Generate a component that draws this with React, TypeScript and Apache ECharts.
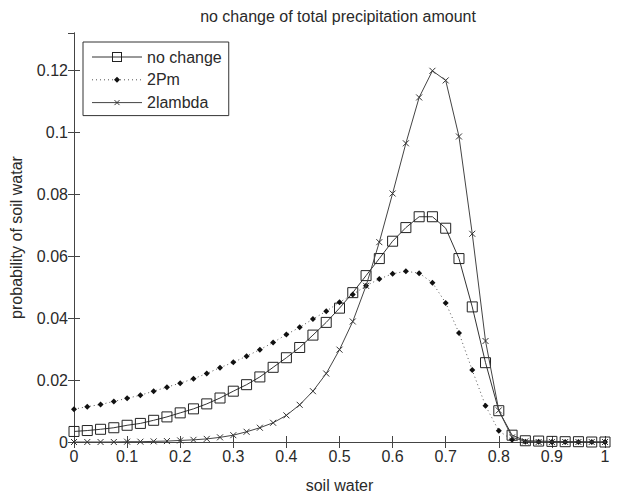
import React, { useEffect, useRef } from "react";
import * as echarts from "echarts";

const soilWater = [
  0, 0.025, 0.05, 0.075, 0.1, 0.125, 0.15, 0.175, 0.2, 0.225,
  0.25, 0.275, 0.3, 0.325, 0.35, 0.375, 0.4, 0.425, 0.45, 0.475,
  0.5, 0.525, 0.55, 0.575, 0.6, 0.625, 0.65, 0.675, 0.7, 0.725,
  0.75, 0.775, 0.8, 0.825, 0.85, 0.875, 0.9, 0.925, 0.95, 0.975, 1,
];

const noChange = [
  0.0034, 0.0037, 0.0041, 0.0046, 0.0054, 0.006, 0.007, 0.0081, 0.0094, 0.0107,
  0.0123, 0.0142, 0.0164, 0.0185, 0.021, 0.0241, 0.0272, 0.0305, 0.0345, 0.0386,
  0.0432, 0.0482, 0.0537, 0.0592, 0.0648, 0.0692, 0.0727, 0.0727, 0.069, 0.0592,
  0.0436, 0.0256, 0.0101, 0.0022, 0.0004, 0.0003, 0.0002, 0.0001, 0.0001, 0.0, 0.0,
];

const twoPm = [
  0.0106, 0.0114, 0.0121, 0.0131, 0.0141, 0.0151, 0.0164, 0.0177, 0.019, 0.0204,
  0.0221, 0.024, 0.0257, 0.0277, 0.0298, 0.0321, 0.0347, 0.037, 0.0397, 0.0422,
  0.0451, 0.0476, 0.0504, 0.0526, 0.0543, 0.0551, 0.0545, 0.0514, 0.0449, 0.0352,
  0.0232, 0.0117, 0.0036, 0.0007, 0.0001, 0.0001, 0.0, 0.0, 0.0, 0.0, 0.0,
];

const twoLambda = [
  0.0, 0.0, 0.0, 0.0, 0.0001, 0.0001, 0.0002, 0.0003, 0.0005, 0.0007,
  0.001, 0.0015, 0.0022, 0.0033, 0.0046, 0.0062, 0.0086, 0.012, 0.0164, 0.0221,
  0.0298, 0.0389, 0.0504, 0.0645, 0.0802, 0.0964, 0.1112, 0.1198, 0.1167, 0.0986,
  0.0672, 0.0326, 0.0102, 0.0015, 0.0002, 0.0, 0.0, 0.0, 0.0, 0.0, 0.0,
];

const seriesNames = ["no change", "2Pm", "2lambda"];
const xTicks = [0, 0.1, 0.2, 0.3, 0.4, 0.5, 0.6, 0.7, 0.8, 0.9, 1];
const yTicks = [0, 0.02, 0.04, 0.06, 0.08, 0.1, 0.12];

const FONT = "Liberation Sans, Arial, sans-serif";
const AXIS_COLOR = "#444";
const TEXT_COLOR = "#2a2a2a";

const pairs = (ys: number[]) => soilWater.map((x, i) => [x, ys[i]]);

const svgIcon = (inner: string) =>
  "image://data:image/svg+xml;charset=utf-8," +
  encodeURIComponent(
    `<svg xmlns="http://www.w3.org/2000/svg" width="50" height="16" viewBox="0 0 50 16">${inner}</svg>`
  );

const legendIcons = [
  svgIcon(
    '<line x1="0" y1="8" x2="50" y2="8" stroke="#333" stroke-width="1"/>' +
      '<rect x="20.5" y="3.5" width="9" height="9" fill="none" stroke="#222" stroke-width="1"/>'
  ),
  svgIcon(
    '<line x1="0" y1="8" x2="50" y2="8" stroke="#555" stroke-width="1" stroke-dasharray="1 3"/>' +
      '<polygon points="25,5 28,8 25,11 22,8" fill="#111"/>'
  ),
  svgIcon(
    '<line x1="0" y1="8" x2="50" y2="8" stroke="#444" stroke-width="1"/>' +
      '<path d="M22.5,5.5L27.5,10.5M27.5,5.5L22.5,10.5" stroke="#333" stroke-width="1"/>'
  ),
];

export default function App() {
  const ref = useRef<HTMLDivElement>(null);
  useEffect(() => {
    if (!ref.current) return;
    const chart = echarts.init(ref.current, null, { renderer: "svg" });
    const isTick = (arr: number[], v: number) =>
      arr.some((t) => Math.abs(t - v) < 1e-9);
    const axisCommon = {
      axisLine: { show: true, lineStyle: { color: AXIS_COLOR, width: 1 } },
      axisTick: { show: true, inside: true, length: 6, lineStyle: { color: AXIS_COLOR } },
      splitLine: { show: false },
    };
    chart.setOption({
      animation: false,
      backgroundColor: "#fff",
      grid: { left: 71, right: 19, top: 33, bottom: 44, containLabel: false },
      graphic: [
        {
          type: "text",
          x: 338,
          y: 16,
          style: {
            text: "no change of total precipitation amount",
            align: "center",
            verticalAlign: "middle",
            font: `16px ${FONT}`,
            fill: TEXT_COLOR,
          },
        },
      ],
      legend: {
        orient: "vertical",
        left: 83,
        top: 42,
        data: seriesNames.map((name, i) => ({ name, icon: legendIcons[i] })),
        borderColor: "#333",
        borderWidth: 1,
        padding: [7, 7, 5, 9],
        itemWidth: 50,
        itemHeight: 16,
        itemGap: 6.8,
        textStyle: { fontFamily: FONT, fontSize: 16, color: TEXT_COLOR },
        backgroundColor: "#fff",
      },
      xAxis: [
        {
          type: "value",
          min: 0,
          max: 1,
          interval: 0.1,
          name: "soil water",
          nameLocation: "middle",
          nameGap: 35,
          nameTextStyle: { fontFamily: FONT, fontSize: 16, color: TEXT_COLOR },
          axisLabel: {
            fontFamily: FONT,
            fontSize: 16,
            color: TEXT_COLOR,
            margin: 6,
            formatter: (v: number) => (isTick(xTicks, v) ? String(+v.toFixed(2)) : ""),
          },
          ...axisCommon,
        },
        {
          type: "value",
          position: "top",
          min: 0,
          max: 1,
          interval: 0.1,
          axisLabel: { show: false },
          ...axisCommon,
        },
      ],
      yAxis: [
        {
          type: "value",
          min: 0,
          max: 0.132,
          interval: 0.02,
          name: "probability of soil watar",
          nameLocation: "middle",
          nameGap: 50,
          nameTextStyle: { fontFamily: FONT, fontSize: 16, color: TEXT_COLOR },
          axisLabel: {
            fontFamily: FONT,
            fontSize: 16,
            color: TEXT_COLOR,
            margin: 6,
            showMaxLabel: false,
            formatter: (v: number) => (isTick(yTicks, v) ? String(+v.toFixed(2)) : ""),
          },
          ...axisCommon,
        },
        {
          type: "value",
          position: "right",
          min: 0,
          max: 0.132,
          interval: 0.02,
          axisLabel: { show: false },
          ...axisCommon,
        },
      ],
      series: [
        {
          name: seriesNames[0],
          type: "line",
          data: pairs(noChange),
          symbol: "rect",
          symbolSize: 10,
          showAllSymbol: true,
          lineStyle: { color: "#333", width: 1 },
          itemStyle: { color: "rgba(255,255,255,0)", borderColor: "#222", borderWidth: 1 },
          z: 2,
        },
        {
          name: seriesNames[1],
          type: "line",
          data: pairs(twoPm),
          symbol: "diamond",
          symbolSize: 6,
          showAllSymbol: true,
          lineStyle: { color: "#555", width: 1, type: [1, 3] },
          itemStyle: { color: "#111", borderColor: "#111", borderWidth: 0 },
          z: 3,
        },
        {
          name: seriesNames[2],
          type: "line",
          data: pairs(twoLambda),
          symbol: "path://M0,0L10,10M10,0L0,10",
          symbolSize: 6,
          showAllSymbol: true,
          lineStyle: { color: "#444", width: 1 },
          itemStyle: { color: "none", borderColor: "#333", borderWidth: 1 },
          z: 4,
        },
      ],
    });
    return () => chart.dispose();
  }, []);
  return (
    <div
      ref={ref}
      style={{ position: "fixed", left: 0, top: 0, width: 624, height: 498, background: "#fff" }}
    />
  );
}
